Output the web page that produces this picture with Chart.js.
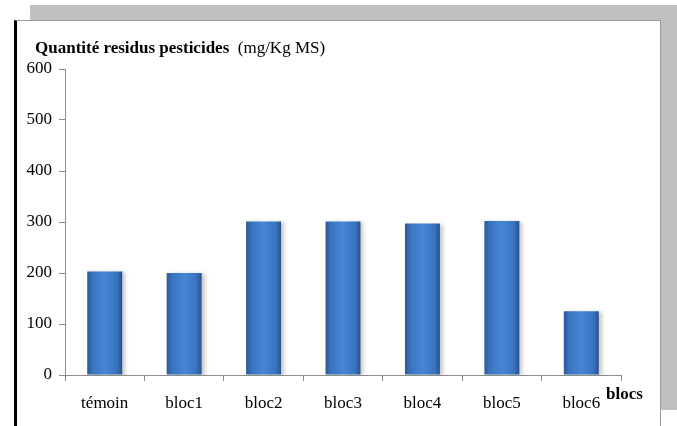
<!DOCTYPE html>
<html>
<head>
<meta charset="utf-8">
<script src="https://cdn.jsdelivr.net/npm/chart.js@4"></script>
<style>
  body { margin: 0; background: #fff; }
  #wrap { position: relative; width: 677px; height: 426px; overflow: hidden; font-family: "Liberation Serif", "Times New Roman", serif; }
  #shadow { position: absolute; left: 30px; top: 5px; width: 647px; height: 405px; background: #c0c0c0; }
  #panel { position: absolute; left: 14px; top: 20px; width: 643px; height: 410px; background: #fff;
           border-top: 1px solid #9a9a9a; border-right: 1px solid #9a9a9a; border-left: 3px solid #000; }
  #chartBox { position: absolute; left: 0; top: 0; width: 677px; height: 426px; }
  .txt { position: absolute; font-size: 17px; line-height: 17px; color: #000; white-space: nowrap; }
  .b { font-weight: bold; }
</style>
</head>
<body>
<div id="wrap">
  <div id="shadow"></div>
  <div id="panel"></div>
  <div id="chartBox"><canvas id="myChart" width="677" height="426"></canvas></div>
  <div class="txt" style="left:35px; top:39px;"><span class="b">Quantité residus pesticides</span>&nbsp; (mg/Kg MS)</div>
  <div class="txt b" style="left:606px; top:385px;">blocs</div>
</div>
<script>
const ctx = document.getElementById("myChart").getContext("2d");

const labels = ["témoin", "bloc1", "bloc2", "bloc3", "bloc4", "bloc5", "bloc6"];
const residus = [203, 200, 301, 301, 297, 302, 125];
const yTicks = [0, 100, 200, 300, 400, 500, 600];

// horizontal gradient across each bar (dark edges, lighter middle)
function barFill(context) {
  const chart = context.chart;
  const xs = chart.scales.x;
  if (!xs || context.dataIndex === undefined) return "#3d78c4";
  const cx = xs.getPixelForValue(context.dataIndex);
  const w = (xs.width / labels.length) * 0.44;
  if (!isFinite(cx) || !isFinite(w) || w <= 0) return "#3d78c4";
  const g = chart.ctx.createLinearGradient(cx - w / 2, 0, cx + w / 2, 0);
  g.addColorStop(0, "#2a5896");
  g.addColorStop(0.15, "#3a73bd");
  g.addColorStop(0.5, "#4786d6");
  g.addColorStop(0.85, "#3a73bd");
  g.addColorStop(1, "#27518b");
  return g;
}

// soft shadow on the right of the bars
const barShadow = {
  id: "barShadow",
  beforeDatasetsDraw(chart) {
    const c = chart.ctx;
    c.save();
    c.shadowColor = "rgba(0,0,0,0.22)";
    c.shadowOffsetX = 3;
    c.shadowOffsetY = 1;
    c.shadowBlur = 4;
  },
  afterDatasetsDraw(chart) {
    chart.ctx.restore();
  },
};

const data = {
  labels,
  datasets: [
    {
      data: residus,
      backgroundColor: barFill,
      borderWidth: 0,
      categoryPercentage: 1,
      barPercentage: 0.44,
    },
  ],
};

const config = {
  type: "bar",
  data: data,
  plugins: [barShadow],
  options: {
    responsive: false,
    animation: false,
    layout: { padding: { left: 0, top: 69, right: 56, bottom: 0 } },
    plugins: {
      legend: { display: false },
      tooltip: { enabled: false },
    },
    scales: {
      x: {
        grid: { display: true, drawOnChartArea: false, offset: true, color: "#8c8c8c", tickLength: 6 },
        border: { color: "#8c8c8c" },
        ticks: { color: "#000", font: { family: "Liberation Serif", size: 17 }, padding: 12 },
        afterFit: (scale) => { scale.height = 51; },
      },
      y: {
        min: 0,
        max: 600,
        afterBuildTicks: (scale) => { scale.ticks = yTicks.map((v) => ({ value: v })); },
        grid: { display: true, drawOnChartArea: false, color: "#8c8c8c", tickLength: 6 },
        border: { color: "#8c8c8c" },
        ticks: { color: "#000", font: { family: "Liberation Serif", size: 17 }, padding: 7 },
        afterFit: (scale) => { scale.width = 65; },
      },
    },
  },
};

const myChart = new Chart(ctx, config);
</script>
</body>
</html>
